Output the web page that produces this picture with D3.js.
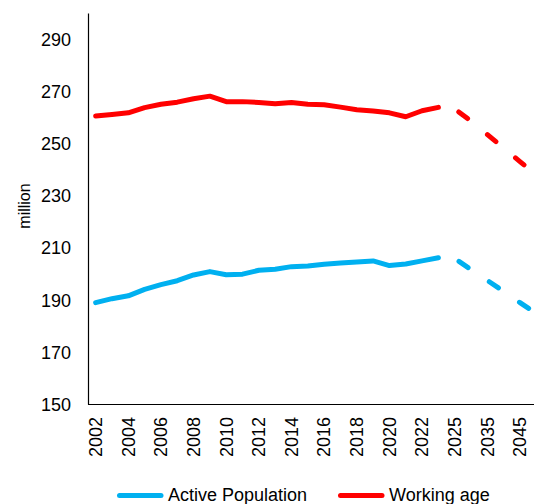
<!DOCTYPE html>
<html>
<head>
<meta charset="utf-8">
<script src="https://cdn.jsdelivr.net/npm/d3@7"></script>
<style>
  html, body { margin: 0; padding: 0; background: #fff; overflow: hidden; }
  svg { display: block; }
  text { font-family: "Liberation Sans", Arial, sans-serif; fill: #000; }
</style>
</head>
<body>
<script>
// ---- data ----
const categories = ["2002","2003","2004","2005","2006","2007","2008","2009","2010","2011","2012",
  "2013","2014","2015","2016","2017","2018","2019","2020","2021","2022","2023",
  "2025","2030","2035","2040","2045","2050"];
const tickLabels = categories.filter((d, i) => i % 2 === 0);

// historical (solid) 2002-2023
const activeHist = [188.9,190.4,191.5,194.0,195.8,197.3,199.5,200.8,199.6,199.8,201.3,
  201.7,202.7,202.9,203.6,204.1,204.5,204.9,203.1,203.7,204.9,206.1];
const workingHist = [260.5,261.1,261.7,263.7,265.0,265.8,267.1,268.1,266.0,266.0,265.7,
  265.2,265.7,265.0,264.8,263.9,262.9,262.4,261.7,260.2,262.5,263.8];
// projections (dashed) 2023, 2025-2050
const projCats = ["2023","2025","2030","2035","2040","2045","2050"];
const activeProj = [206.1,205.8,201.6,197.4,193.2,188.9,184.7];
const workingProj = [263.8,263.2,258.5,253.4,248.2,243.0,237.8];

const yTicks = [150,170,190,210,230,250,270,290];
const yDomain = [150, 300];

const seriesNames = ["Active Population", "Working age"];
const colors = ["#00B0F0", "#FF0000"];

// ---- chart ----
const W = 534, H = 504;
const svg = d3.select("body").append("svg").attr("width", W).attr("height", H);

const x = d3.scaleBand().domain(categories).range([87.5, 87.5 + 16.32 * categories.length]);
const cx = d => x(d) + x.bandwidth() / 2;
const y = d3.scaleLinear().domain(yDomain).range([404, 13]);

// axes
const yAxis = d3.axisLeft(y).tickValues(yTicks).tickSize(0).tickPadding(17).tickFormat(d3.format("d"));
const gy = svg.append("g").attr("transform", "translate(88,0)").call(yAxis);
gy.select(".domain").attr("stroke", "#000").attr("stroke-width", 1.2);
gy.selectAll("text").attr("font-size", "18px").attr("dy", "0.35em")
  .style("font-family", '"Liberation Sans", Arial, sans-serif');

const xAxis = d3.axisBottom(x).tickValues(tickLabels).tickSize(0).tickPadding(0);
const gx = svg.append("g").attr("transform", "translate(0,404)").call(xAxis);
gx.select(".domain").attr("stroke", "#000").attr("stroke-width", 1.2).attr("d", "M88,0.5H" + W);
gx.selectAll("text")
  .attr("font-size", "18px")
  .style("font-family", '"Liberation Sans", Arial, sans-serif')
  .attr("text-anchor", "end")
  .attr("transform", "rotate(-90)")
  .attr("x", -13)
  .attr("y", 0)
  .attr("dy", "0.35em");

// y title
svg.append("text")
  .attr("transform", "translate(30,206) rotate(-90)")
  .attr("text-anchor", "middle")
  .attr("font-size", "16px")
  .text("million");

// lines
const line = d3.line().x(d => cx(d.c)).y(d => y(d.v));
const hist = [activeHist, workingHist];
const proj = [activeProj, workingProj];
hist.forEach((vals, k) => {
  svg.append("path")
    .datum(vals.map((v, i) => ({c: categories[i], v})))
    .attr("d", line)
    .attr("fill", "none")
    .attr("stroke", colors[k])
    .attr("stroke-width", 5)
    .attr("stroke-linecap", "round")
    .attr("stroke-linejoin", "round");
});
proj.forEach((vals, k) => {
  svg.append("path")
    .datum(vals.map((v, i) => ({c: projCats[i], v})))
    .attr("d", line)
    .attr("fill", "none")
    .attr("stroke", colors[k])
    .attr("stroke-width", 5)
    .attr("stroke-linecap", "round")
    .attr("stroke-linejoin", "round")
    .attr("stroke-dasharray", "11,25.5")
    .attr("stroke-dashoffset", 15);
});

// legend
const legendItems = [
  {name: seriesNames[0], color: colors[0], x: 117},
  {name: seriesNames[1], color: colors[1], x: 338}
];
legendItems.forEach(it => {
  svg.append("line")
    .attr("x1", it.x + 2.5).attr("x2", it.x + 44)
    .attr("y1", 495.5).attr("y2", 495.5)
    .attr("stroke", it.color).attr("stroke-width", 5)
    .attr("stroke-linecap", "round");
  svg.append("text")
    .attr("x", it.x + 51).attr("y", 500.5)
    .attr("font-size", "18px")
    .text(it.name);
});
</script>
</body>
</html>
